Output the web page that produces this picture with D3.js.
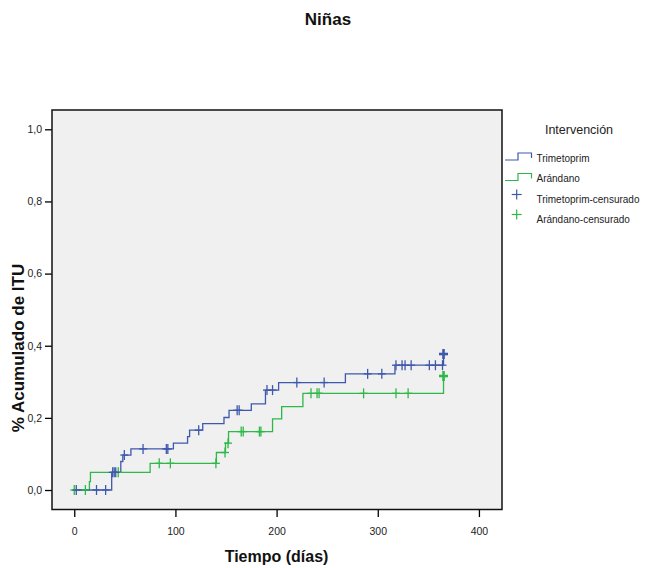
<!DOCTYPE html>
<html>
<head>
<meta charset="utf-8">
<script src="https://cdn.jsdelivr.net/npm/d3@7"></script>
<style>
  html, body { margin: 0; padding: 0; background: #ffffff; }
  svg { display: block; font-family: "Liberation Sans", Arial, sans-serif; }
</style>
</head>
<body>
<svg id="chart" width="657" height="568"></svg>
<script>
// ---- data ----
const title = "Niñas";
const xLabel = "Tiempo (días)";
const yLabel = "% Acumulado de ITU";
const legendTitle = "Intervención";
const seriesNames = ["Trimetoprim", "Arándano"];
const xTicks = [0, 100, 200, 300, 400];
const yTicks = [0, 0.2, 0.4, 0.6, 0.8, 1.0];

// step events: time (days) and cumulative proportion after the step
const trimTimes = [0, 37, 46, 48, 56, 98, 112, 114, 127, 148, 153, 175, 189, 202, 268, 317, 365];
const trimCum   = [0, 0.049, 0.079, 0.097, 0.114, 0.130, 0.148, 0.166, 0.184, 0.201, 0.221, 0.239, 0.277, 0.298, 0.322, 0.346, 0.377];
const trimCensored = [2, 22, 31, 38, 39.5, 41, 49.5, 68, 91, 92.5, 123, 161, 163, 190.5, 196, 220, 247, 290, 304, 318, 324, 327, 333, 351, 357, 364, 365];

const aranTimes = [0, 15, 16, 75, 140.5, 149.5, 152.5, 196, 205, 226, 365];
const aranCum   = [0, 0.023, 0.049, 0.074, 0.104, 0.130, 0.162, 0.197, 0.231, 0.268, 0.316];
const aranCensored = [0, 11, 43.5, 84, 95, 140, 149, 152, 165, 167, 183, 184.5, 234, 240, 242, 286, 318, 330, 365];

// ---- layout ----
const colors = ["#3e58ac", "#2eb848"];
const frame = { left: 52, right: 502, top: 110, bottom: 509.5 };

const svg = d3.select("#chart");

const x = d3.scaleLinear().domain([-22, 422.8]).range([frame.left, frame.right]);
const y = d3.scaleLinear().domain([-0.054, 1.0535]).range([frame.bottom, frame.top]);

// plot background
svg.append("rect")
  .attr("x", frame.left).attr("y", frame.top)
  .attr("width", frame.right - frame.left).attr("height", frame.bottom - frame.top)
  .attr("fill", "#f0f0f0");

// axes
const fmt = d => d3.format(".1f")(d).replace(".", ",");
const yAxis = svg.append("g")
  .attr("transform", `translate(${frame.left},0)`)
  .call(d3.axisLeft(y).tickValues(yTicks).tickFormat(fmt).tickSize(7).tickPadding(3));
const xAxis = svg.append("g")
  .attr("transform", `translate(0,${frame.bottom})`)
  .call(d3.axisBottom(x).tickValues(xTicks).tickFormat(d3.format("d")).tickSize(7.5).tickPadding(11));
[yAxis, xAxis].forEach(g => {
  g.select(".domain").remove();
  g.selectAll(".tick line").attr("stroke", "#000").attr("stroke-width", 1.3);
  g.selectAll(".tick text").attr("fill", "#222").style("font-size", "10.5px")
    .style("font-family", "'Liberation Sans', Arial, sans-serif");
});

// series
const series = [
  { name: seriesNames[0], times: trimTimes, cum: trimCum, cens: trimCensored, color: colors[0] },
  { name: seriesNames[1], times: aranTimes, cum: aranCum, cens: aranCensored, color: colors[1] }
];

const line = d3.line().x(d => x(d[0])).y(d => y(d[1])).curve(d3.curveStepAfter);
function levelAt(s, t) {
  let v = 0;
  for (let i = 0; i < s.times.length; i++) if (s.times[i] <= t) v = s.cum[i];
  return v;
}

// draw green first so blue sits on top where they share
[series[1], series[0]].forEach(s => {
  svg.append("path")
    .datum(s.times.map((t, i) => [t, s.cum[i]]))
    .attr("d", line)
    .attr("fill", "none")
    .attr("stroke", s.color)
    .attr("stroke-width", 1.3);
});

[series[1], series[0]].forEach(s => {
  const maxT = d3.max(s.cens);
  const g = svg.append("g");
  s.cens.forEach(t => {
    const big = t === maxT;
    const cx = x(t), cy = y(levelAt(s, t));
    const hv = 5, hh = big ? 4.5 : 4;
    g.append("line").attr("x1", cx).attr("x2", cx).attr("y1", cy - hv).attr("y2", cy + hv)
      .attr("stroke", s.color).attr("stroke-width", big ? 2.6 : 1.3);
    g.append("line").attr("x1", cx - hh).attr("x2", cx + hh).attr("y1", cy).attr("y2", cy)
      .attr("stroke", s.color).attr("stroke-width", big ? 2.6 : 1.3);
  });
});

// frame
svg.append("rect")
  .attr("x", frame.left).attr("y", frame.top)
  .attr("width", frame.right - frame.left).attr("height", frame.bottom - frame.top)
  .attr("fill", "none").attr("stroke", "#111").attr("stroke-width", 1.5);

// titles
svg.append("text").attr("x", 328).attr("y", 25).attr("text-anchor", "middle")
  .style("font-size", "17px").style("font-weight", "bold").attr("fill", "#111").text(title);
svg.append("text").attr("x", 276.5).attr("y", 562).attr("text-anchor", "middle")
  .style("font-size", "16px").style("font-weight", "bold").attr("fill", "#111").text(xLabel);
svg.append("text").attr("transform", "translate(24,348) rotate(-90)").attr("text-anchor", "middle")
  .style("font-size", "17px").style("font-weight", "bold").attr("fill", "#111").text(yLabel);

// legend
const lg = svg.append("g");
lg.append("text").attr("x", 579).attr("y", 133.5).attr("text-anchor", "middle")
  .style("font-size", "12.5px").attr("fill", "#222").text(legendTitle);

const legendRows = [
  { type: "line", color: colors[0], label: seriesNames[0], base: 161.5 },
  { type: "line", color: colors[1], label: seriesNames[1], base: 182 },
  { type: "cross", color: colors[0], label: seriesNames[0] + "-censurado", base: 202.5 },
  { type: "cross", color: colors[1], label: seriesNames[1] + "-censurado", base: 222.5 }
];
legendRows.forEach(r => {
  if (r.type === "line") {
    const low = r.base - 1.5, high = r.base - 8.5;
    lg.append("path")
      .attr("d", `M505,${low} H518 V${high} H531.5 V${low - 2}`)
      .attr("fill", "none").attr("stroke", r.color).attr("stroke-width", 1.2);
  } else {
    const cx = 516.7, cy = r.base - 8;
    lg.append("line").attr("x1", cx).attr("x2", cx).attr("y1", cy - 5).attr("y2", cy + 5)
      .attr("stroke", r.color).attr("stroke-width", 1.2);
    lg.append("line").attr("x1", cx - 5).attr("x2", cx + 5).attr("y1", cy).attr("y2", cy)
      .attr("stroke", r.color).attr("stroke-width", 1.2);
  }
  lg.append("text").attr("x", 536.5).attr("y", r.base)
    .style("font-size", "10px").attr("fill", "#222").text(r.label);
});
</script>
</body>
</html>
